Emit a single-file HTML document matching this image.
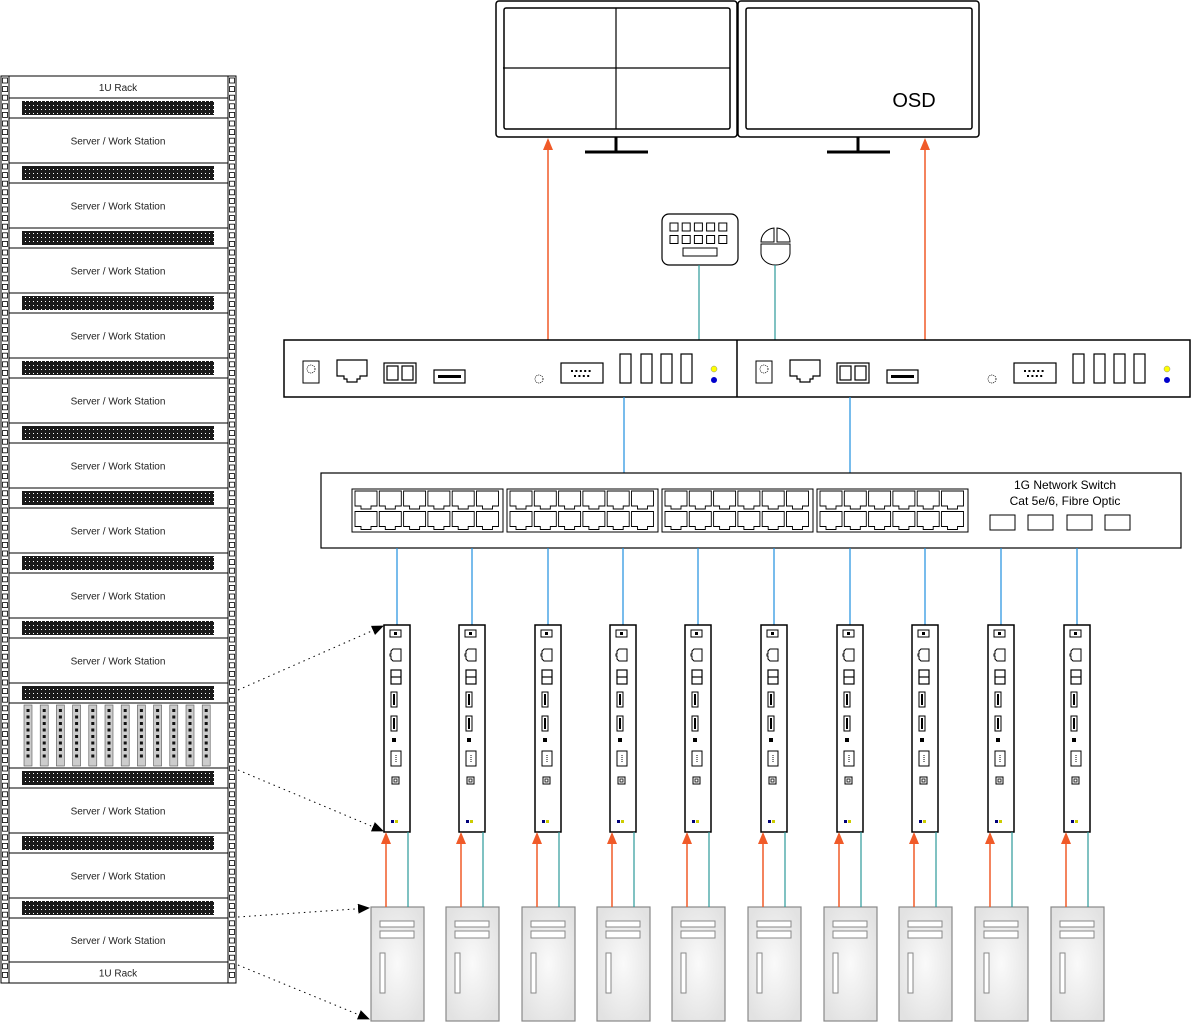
<!DOCTYPE html>
<html><head><meta charset="utf-8"><style>
html,body{margin:0;padding:0;background:#fff;width:1192px;height:1022px;overflow:hidden}
svg{display:block}
text{font-family:"Liberation Sans",sans-serif}
</style></head><body>
<svg id="s" width="1192" height="1022" viewBox="0 0 1192 1022" xmlns="http://www.w3.org/2000/svg">
<defs>
<pattern id="vent" width="4" height="4" patternUnits="userSpaceOnUse">
<rect width="4" height="4" fill="#1a1a1a"/><rect x="1" y="1" width="1" height="1" fill="#fff"/>
</pattern>
<radialGradient id="pcg" cx="0.5" cy="0.5" r="0.6"><stop offset="0" stop-color="#fafafa"/><stop offset="1" stop-color="#e2e2e2"/></radialGradient>
<marker id="ao" markerWidth="12" markerHeight="10" refX="10" refY="5" orient="auto" markerUnits="userSpaceOnUse" viewBox="0 0 12 10"><path d="M0,0 L12,5 L0,10 Z" fill="#f05a28"/></marker>
<marker id="ak" markerWidth="12" markerHeight="10" refX="11" refY="5" orient="auto" markerUnits="userSpaceOnUse" viewBox="0 0 12 10"><path d="M0,0 L12,5 L0,10 Z" fill="#000"/></marker>
</defs>
<g id="g"></g>
</svg>
<script>
var g=document.getElementById('g'),o='';
function r(x,y,w,h,a){o+='<rect x="'+x+'" y="'+y+'" width="'+w+'" height="'+h+'" '+(a||'fill="none" stroke="#000" stroke-width="1.5"')+'/>';}
function l(x1,y1,x2,y2,a){o+='<line x1="'+x1+'" y1="'+y1+'" x2="'+x2+'" y2="'+y2+'" '+a+'/>';}
function t(x,y,s,sz,a){o+='<text x="'+x+'" y="'+y+'" font-size="'+sz+'" '+(a||'text-anchor="middle"')+'>'+s+'</text>';}
// RACK
r(1,76,235,907,'fill="#fff" stroke="#000" stroke-width="1"');
function vent(y){r(9,y,219,20,'fill="#fff" stroke="#000" stroke-width="1"');r(22,y+3,192,14,'fill="url(#vent)"');}
function server(y,h,label){r(9,y,219,h,'fill="#fff" stroke="#000" stroke-width="1"');t(118,y+h/2+4,label,10,'text-anchor="middle" fill="#222"');}
server(76,22,'1U Rack');
var y=98;
for(var i=0;i<9;i++){vent(y);server(y+20,45,'Server / Work Station');y+=65;}
vent(683);
r(9,703,219,65,'fill="#fff" stroke="#000" stroke-width="1"');
for(var i=0;i<12;i++){var cx=24+i*16.2;r(cx,705,8,61,'fill="#ccc" stroke="#555" stroke-width="0.6"');
for(var k=0;k<8;k++)r(cx+2.5,709+k*6.5,3,3,'fill="#111"');}
vent(768);server(788,45,'Server / Work Station');vent(833);server(853,45,'Server / Work Station');vent(898);server(918,44,'Server / Work Station');server(962,21,'1U Rack');
for(var yy=78;yy<977;yy+=8.6){r(2.5,yy,5,5,'fill="#fff" stroke="#000" stroke-width="0.8"');r(229.5,yy,5,5,'fill="#fff" stroke="#000" stroke-width="0.8"');}
l(1,76,1,983,'stroke="#000"');l(236,76,236,983,'stroke="#000"');
// MONITORS
function mon(x,stem){o+='<rect x="'+x+'" y="1" width="241" height="136" rx="3" fill="#fff" stroke="#000" stroke-width="1.5"/>';
o+='<rect x="'+(x+8)+'" y="8" width="226" height="121" rx="2" fill="none" stroke="#000" stroke-width="1.5"/>';
l(stem,137,stem,152,'stroke="#000" stroke-width="3"');l(stem-31,152,stem+32,152,'stroke="#000" stroke-width="3"');}
mon(496,616);mon(738,858);
l(616,8,616,129,'stroke="#000" stroke-width="1.2"');l(503,68,730,68,'stroke="#000" stroke-width="1.2"');
t(914,107,'OSD',20,'text-anchor="middle"');
// keyboard
o+='<rect x="662" y="214" width="76" height="51" rx="7" fill="#fff" stroke="#000" stroke-width="1.2"/>';
for(var rr=0;rr<2;rr++)for(var c=0;c<5;c++)r(670+c*12.2,223+rr*12.5,8,8,'fill="none" stroke="#000" stroke-width="1"');
r(683,248,34,8,'fill="none" stroke="#000" stroke-width="1"');
o+='<path d="M761,244 L790,244 L790,253 A14.5,12 0 0 1 761,253 Z M761,242 A14.5,14 0 0 1 774,228 L774,242 Z M777,228 A14.5,14 0 0 1 790,242 L777,242 Z" fill="#fff" stroke="#000" stroke-width="1"/>';
l(699,265,699,340,'stroke="#2a9a9a" stroke-width="1.2"');l(775,265,775,340,'stroke="#2a9a9a" stroke-width="1.2"');
l(548,340,548,140,'stroke="#f05a28" stroke-width="1.5" marker-end="url(#ao)"');
l(925,340,925,140,'stroke="#f05a28" stroke-width="1.5" marker-end="url(#ao)"');
// KVM
r(284,340,906,57,'fill="#fff" stroke="#000" stroke-width="1.5"');l(737,340,737,397,'stroke="#000" stroke-width="1.5"');
[0,453].forEach(function(d){
r(303+d,361,16,22,'fill="#fff" stroke="#000" stroke-width="1"');o+='<circle cx="'+(311+d)+'" cy="369" r="4" fill="none" stroke="#000" stroke-width="0.8" stroke-dasharray="1,1"/>';
o+='<path d="M'+(337+d)+',360 h30 v16 h-7 v3 h-3 v3 h-10 v-3 h-3 v-3 h-7 Z" fill="none" stroke="#000" stroke-width="1.2"/>';
r(384+d,363,32,20,'fill="none" stroke="#000" stroke-width="1.2"');r(387+d,366,11,14,'fill="none" stroke="#000" stroke-width="1.2"');r(402+d,366,11,14,'fill="none" stroke="#000" stroke-width="1.2"');
r(434+d,370,31,13,'fill="none" stroke="#000" stroke-width="1.2"');r(438+d,375,23,3,'fill="#000"');
o+='<circle cx="'+(539+d)+'" cy="379" r="4" fill="none" stroke="#000" stroke-width="0.8" stroke-dasharray="1,1"/>';
r(561+d,363,42,20,'fill="none" stroke="#000" stroke-width="1.2"');
for(var k=0;k<5;k++)r(571+d+k*4.4,370,2,2,'fill="#000"');for(var k=0;k<4;k++)r(574+d+k*4.4,375,2,2,'fill="#000"');
[620,641,661,681].forEach(function(x){r(x+d,354,11,29,'fill="none" stroke="#000" stroke-width="1.2"');});
o+='<circle cx="'+(714+d)+'" cy="369" r="3" fill="#ff0" stroke="#888" stroke-width="0.5"/><circle cx="'+(714+d)+'" cy="380" r="3" fill="#00c"/>';
});
l(624,397,624,473,'stroke="#1e90e0" stroke-width="1.2"');l(850,397,850,473,'stroke="#1e90e0" stroke-width="1.2"');
// SWITCH
r(321,473,860,75,'fill="#fff" stroke="#000" stroke-width="1.2"');
[352,507,662,817].forEach(function(gx){r(gx,489,151,43,'fill="none" stroke="#000" stroke-width="1"');
for(var rr=0;rr<2;rr++)for(var c=0;c<6;c++){var px=gx+3+c*24.3,py=491+rr*20.5;
o+='<path d="M'+px+','+py+' h22 v15 h-6 v3 h-10 v-3 h-6 Z" fill="none" stroke="#000" stroke-width="0.9"/>';}});
[990,1028,1067,1105].forEach(function(x){r(x,515,25,15,'fill="none" stroke="#000" stroke-width="1"');});
t(1065,489,'1G Network Switch',12,'text-anchor="middle"');t(1065,505,'Cat 5e/6, Fibre Optic',12,'text-anchor="middle"');
// EXTENDERS + PCs
var cs=[397,472,548,623,698,774,850,925,1001,1077];
cs.forEach(function(cx){
l(cx,548,cx,625,'stroke="#1e90e0" stroke-width="1.2"');
var x=cx-13;r(x,625,26,207,'fill="#fff" stroke="#000" stroke-width="1.5"');
r(x+6,630,11,7,'fill="none" stroke="#000" stroke-width="1"');r(x+10,632,3,3,'fill="#000"');
o+='<path d="M'+(x+9)+',649 h8 v12 h-8 l-2,-2 v-3 l-1,0 v-2 l1,0 v-3 Z" fill="none" stroke="#000" stroke-width="1"/>';
r(x+7,670,10,14,'fill="none" stroke="#000" stroke-width="1.2"');l(x+7,677,x+17,677,'stroke="#000" stroke-width="1.2"');
r(x+7,692,6,15,'fill="none" stroke="#000" stroke-width="1"');r(x+9,694,2,11,'fill="#000"');
r(x+7,716,6,15,'fill="none" stroke="#000" stroke-width="1"');r(x+9,718,2,11,'fill="#000"');
r(x+8,738,4,4,'fill="#000"');
r(x+7,751,10,15,'fill="none" stroke="#000" stroke-width="1"');l(x+12,755,x+12,763,'stroke="#000" stroke-width="1" stroke-dasharray="1,1"');
r(x+8,777,7,7,'fill="none" stroke="#000" stroke-width="1"');r(x+10,779,3,3,'fill="none" stroke="#000" stroke-width="0.8"');
r(x+7,820,3,3,'fill="#00007a"');r(x+11,820,3,3,'fill="#cc0"');
var px=cx-26;
r(px,907,53,114,'fill="url(#pcg)" stroke="#888" stroke-width="1.2"');
r(px+9,921,34,6,'fill="#fff" stroke="#888" stroke-width="1"');r(px+9,931,34,7,'fill="#fff" stroke="#888" stroke-width="1"');
r(px+9,953,5,40,'fill="#fff" stroke="#888" stroke-width="1"');
l(px+15,907,px+15,834,'stroke="#f05a28" stroke-width="1.5" marker-end="url(#ao)"');
l(px+37,907,px+37,832,'stroke="#2a9a9a" stroke-width="1.2"');
});
// dotted arrows
var da='stroke="#000" stroke-width="1" stroke-dasharray="1.5,4" marker-end="url(#ak)"';
l(238,690,383,626,da);l(238,770,383,831,da);l(238,917,369,908,da);l(238,965,369,1019,da);
g.innerHTML=o;
</script>
</body></html>
